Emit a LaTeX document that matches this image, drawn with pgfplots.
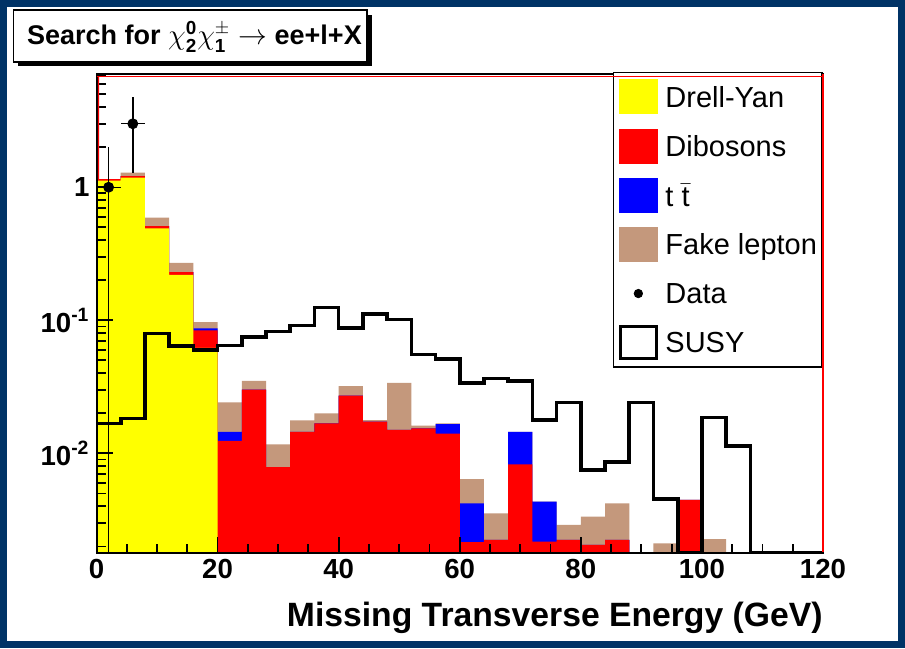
\documentclass[border=0pt]{standalone}
\usepackage{amsmath}
\usepackage{fontspec}
\setmainfont{Liberation Sans}
\usepackage{pgfplots}
\usepackage{pgfplotstable}
\pgfplotsset{compat=1.18}
\usetikzlibrary{calc}

\definecolor{canvasblue}{RGB}{0,51,102}
\definecolor{dyyellow}{RGB}{255,255,0}
\definecolor{dibred}{RGB}{255,0,0}
\definecolor{ttblue}{RGB}{0,0,255}
\definecolor{fakebrown}{RGB}{196,152,124}

% Missing ET, 4 GeV bins (left edges). Background columns are running
% totals of the stack: dy, dy+dibosons, dy+dibosons+ttbar, all.
% 1e-4 stands for an empty bin (below the plotted range);
% empty SUSY bins sit on the lower frame (0.0018).
\pgfplotstableread{
x    dy      dydib    dydibtt  total    susy
0    1e-4    1e-4     1e-4     1e-4     0.0018
0    1.12    1.15     1.15     1.15     0.0168
4    1.18    1.21     1.21     1.29     0.0183
8    0.49    0.51     0.51     0.59     0.0794
12   0.22    0.23     0.23     0.27     0.0641
16   0.062   0.084    0.087    0.097    0.0596
20   1e-4    0.0124   0.0145   0.0242   0.0645
24   1e-4    0.0302   0.0302   0.0351   0.075
28   1e-4    0.0079   0.0079   0.0117   0.0827
32   1e-4    0.0145   0.0145   0.0177   0.0917
36   1e-4    0.0168   0.0168   0.0200   0.1245
40   1e-4    0.0272   0.0272   0.0321   0.0876
44   1e-4    0.0173   0.0173   0.0178   0.111
48   1e-4    0.0150   0.0150   0.0339   0.1017
52   1e-4    0.0154   0.0154   0.0162   0.0553
56   1e-4    0.0141   0.0166   0.0168   0.051
60   1e-4    0.00215  0.00421  0.00641  0.0339
64   1e-4    0.00224  0.00224  0.00355  0.0365
68   1e-4    0.00826  0.0145   0.0145   0.0351
72   1e-4    0.00217  0.00434  0.00434  0.0178
76   1e-4    0.00224  0.00224  0.0029   0.0242
80   1e-4    0.00205  0.00205  0.00335  0.0075
84   1e-4    0.00224  0.00224  0.00421  0.00866
88   1e-4    1e-4     1e-4     1e-4     0.0242
92   1e-4    1e-4     1e-4     0.00211  0.00452
96   1e-4    0.00447  0.00447  0.00447  0.0018
100  1e-4    1e-4     1e-4     0.00227  0.0186
104  1e-4    1e-4     1e-4     1e-4     0.0114
108  1e-4    1e-4     1e-4     1e-4     0.0018
112  1e-4    1e-4     1e-4     1e-4     0.0018
116  1e-4    1e-4     1e-4     1e-4     0.0018
120  1e-4    1e-4     1e-4     1e-4     0.0018
}\methist

% observed events: bin centre, count, half bin width, Poisson errors
\pgfplotstableread{
x   n   ex   eup    edn
2   1   2    0      0
6   3   2    1.73   1.73
}\metdata

\begin{document}
\begin{tikzpicture}[x=1pt,y=1pt]
% canvas with dark frame
\fill[canvasblue] (0,0) rectangle (452.5,324);
\fill[white] (3.5,3.5) rectangle (449,320.5);

\begin{axis}[
  name=ax,
  at={(48.25pt,47.75pt)}, anchor=south west,
  scale only axis, width=363.25pt, height=239.25pt,
  xmin=0, xmax=120,
  ymode=log, ymin=0.0018, ymax=7.1,
  axis on top,
  axis line style={black, line width=1pt},
  tick align=inside, tick pos=left,
  every tick/.style={black, line width=0.9pt},
  major tick length=8pt, minor tick length=4.5pt,
  xtick={0,20,...,120},
  xticklabels={0,20,40,60,80,100,120},
  minor xtick={5,10,15,25,30,35,45,50,55,65,70,75,85,90,95,105,110,115},
  ytick={0.01,0.1,1},
  yticklabels={10\textsuperscript{-2},10\textsuperscript{-1},1},
  minor ytick={0.002,0.003,0.004,0.005,0.006,0.007,0.008,0.009,
               0.02,0.03,0.04,0.05,0.06,0.07,0.08,0.09,
               0.2,0.3,0.4,0.5,0.6,0.7,0.8,0.9,2,3,4,5,6,7},
  xticklabel style={font=\bfseries\fontsize{13.8}{16}\selectfont},
  yticklabel style={font=\bfseries\fontsize{13.8}{16}\selectfont},
  xlabel={Missing Transverse Energy (GeV)},
  xlabel style={font=\bfseries\fontsize{16.85}{20}\selectfont,
    at={(rel axis cs:1,0)}, anchor=base east, yshift=-37.1pt, inner sep=0pt},
  legend cell align=left,
  legend style={at={(rel axis cs:1,1)}, anchor=north east, yshift=1.15pt,
    draw=black, line width=0.8pt, fill=white,
    inner xsep=2.6pt, inner ysep=3.5pt, row sep=7.07pt, column sep=3.8pt,
    font=\fontsize{14.5}{17}\selectfont,
    nodes={inner sep=0pt, text depth=0pt}},
]
% stacked backgrounds, drawn from the full sum down
\addplot[const plot, fill=fakebrown, draw=none, forget plot]
  table[x=x, y=total] {\methist};
\addplot[const plot, fill=ttblue, draw=none, forget plot]
  table[x=x, y=dydibtt] {\methist};
\addplot[const plot, fill=dibred, draw=none, forget plot]
  table[x=x, y=dydib] {\methist};
\addplot[const plot, fill=dyyellow, draw=none, forget plot]
  table[x=x, y=dy] {\methist};
% signal outline
\addplot[const plot, black, line width=1.8pt, line join=miter, forget plot]
  table[x=x, y=susy] {\methist};
% single-event bin: error 1 +- 1, so the bar runs from 2 down to the frame
\addplot[black, line width=0.7pt, forget plot]
  coordinates {(2,0.0018) (2,2)};
% data with Poisson errors
\addplot[black, only marks, mark=*, mark size=2.5pt, forget plot,
  error bars/.cd, x dir=both, x explicit, y dir=both, y explicit,
  error mark=none, error bar style={line width=0.7pt, black}]
  table[x=x, y=n, x error=ex, y error plus=eup, y error minus=edn] {\metdata};

\addlegendimage{legend image code/.code={
  \path[draw=none, fill=dyyellow] (0pt,-8.75pt) rectangle (19.5pt,8.75pt);}}
\addlegendentry{Drell-Yan}
\addlegendimage{legend image code/.code={
  \path[draw=none, fill=dibred] (0pt,-8.75pt) rectangle (19.5pt,8.75pt);}}
\addlegendentry{Dibosons}
\addlegendimage{legend image code/.code={
  \path[draw=none, fill=ttblue] (0pt,-8.75pt) rectangle (19.5pt,8.75pt);}}
\addlegendentry{t $\bar{\mbox{t}}$}
\addlegendimage{legend image code/.code={
  \path[draw=none, fill=fakebrown] (0pt,-8.75pt) rectangle (19.5pt,8.75pt);}}
\addlegendentry{Fake lepton}
\addlegendimage{legend image code/.code={
  \path[draw=none, fill=none] (0pt,-8.75pt) rectangle (19.5pt,8.75pt);
  \draw[black, fill=black, line width=0.4pt, mark size=2.1pt] plot[mark=*] coordinates {(9.75pt,0pt)};}}
\addlegendentry{Data}
\addlegendimage{legend image code/.code={
  \path[draw=black, line width=1.5pt, fill=white] (0.75pt,-8pt) rectangle (18.75pt,8pt);}}
\addlegendentry{SUSY}
\end{axis}

% red histogram frame lines along top, right and upper left
\draw[dibred, line width=0.5pt] ($(ax.north west)+(0,-1.4pt)$) -- ($(ax.north east)+(0,-1.4pt)$);
\draw[dibred, line width=1pt] (ax.north east) -- (ax.south east);
\draw[dibred, line width=0.6pt] ($(ax.north west)+(1pt,-1.4pt)$) --
  ($($(ax.south west)!0.780!(ax.north west)$)+(1pt,0)$);

% title pave with shadow
\fill[black] (9,291.2) rectangle (186,316.5);
\draw[black, line width=0.8pt, fill=white] (6.65,293) rectangle (183.5,319);
\node[anchor=base west, inner sep=0pt] at (13.35,301.5)
  {\bfseries\fontsize{13.5}{16}\selectfont Search for
   $\chi^{\textbf{0}}_{\textbf{2}}\chi^{\pm}_{\textbf{1}}\rightarrow$ ee+l+X};

\pgfresetboundingbox
\useasboundingbox (0,0) rectangle (452.5,324);
\end{tikzpicture}
\end{document}
